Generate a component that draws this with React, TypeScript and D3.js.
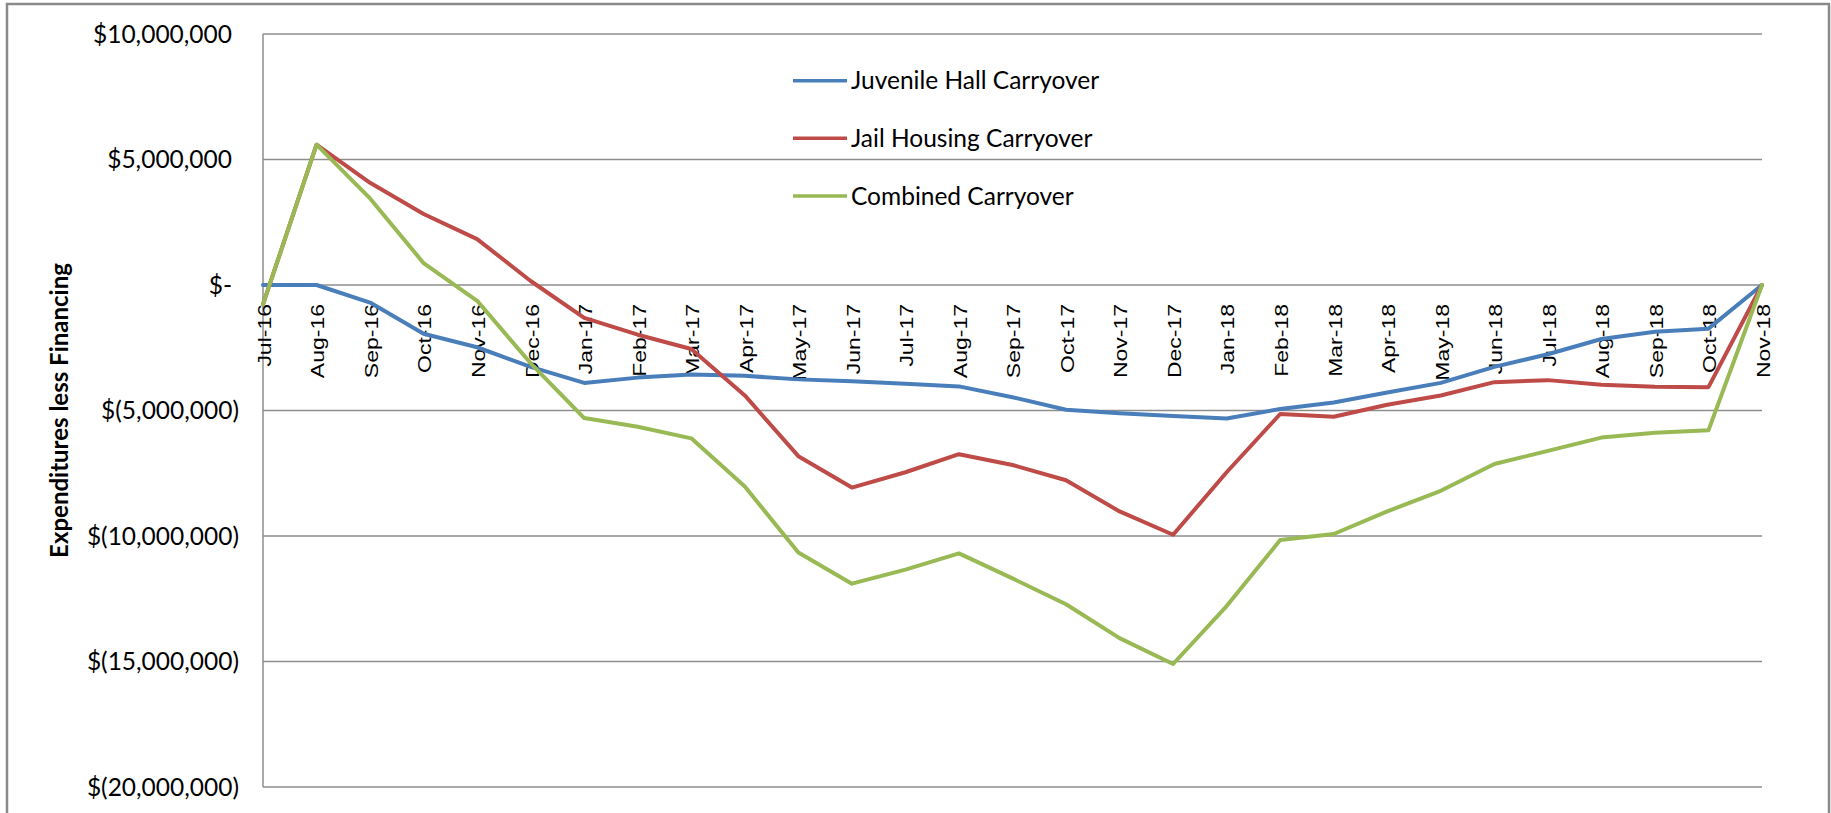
import * as d3 from 'd3';

const months = [
  'Jul-16', 'Aug-16', 'Sep-16', 'Oct-16', 'Nov-16', 'Dec-16',
  'Jan-17', 'Feb-17', 'Mar-17', 'Apr-17', 'May-17', 'Jun-17',
  'Jul-17', 'Aug-17', 'Sep-17', 'Oct-17', 'Nov-17', 'Dec-17',
  'Jan-18', 'Feb-18', 'Mar-18', 'Apr-18', 'May-18', 'Jun-18',
  'Jul-18', 'Aug-18', 'Sep-18', 'Oct-18', 'Nov-18',
];

const juvenileHall = [
  0, 0, -700000, -1940000, -2480000, -3260000,
  -3900000, -3690000, -3570000, -3620000, -3760000, -3830000,
  -3930000, -4040000, -4470000, -4970000, -5110000, -5220000,
  -5320000, -4940000, -4680000, -4280000, -3900000, -3260000,
  -2760000, -2150000, -1860000, -1740000, 0,
];

const jailHousing = [
  -770000, 5590000, 4070000, 2830000, 1830000, 160000,
  -1310000, -1980000, -2550000, -4400000, -6820000, -8070000,
  -7460000, -6740000, -7170000, -7780000, -9020000, -9950000,
  -7460000, -5140000, -5250000, -4770000, -4400000, -3870000,
  -3790000, -3970000, -4050000, -4070000, 0,
];

const combined = [
  -770000, 5590000, 3450000, 870000, -630000, -3120000,
  -5300000, -5650000, -6110000, -8030000, -10660000, -11900000,
  -11340000, -10690000, -11690000, -12720000, -14070000, -15100000,
  -12790000, -10160000, -9920000, -9020000, -8200000, -7130000,
  -6610000, -6080000, -5890000, -5790000, 0,
];

const yTicks = [10000000, 5000000, 0, -5000000, -10000000, -15000000, -20000000];

const seriesNames = ['Juvenile Hall Carryover', 'Jail Housing Carryover', 'Combined Carryover'];
const seriesColors = ['#4A7EBB', '#BE4B48', '#98B954'];

const W = 1831;
const H = 813;
const FONT = "Lato, 'Open Sans', sans-serif";
const XFONT = "'Liberation Sans', Arial, sans-serif";

function money(v: number) {
  if (v === 0) return '$-';
  const s = d3.format(',')(Math.abs(v));
  return v < 0 ? `$(${s})` : `$${s}`;
}

export default function App() {
  const x = d3.scalePoint<string>().domain(months).range([263, 1762]);
  const y = d3.scaleLinear().domain([-20000000, 10000000]).range([787, 34]);

  const line = d3
    .line<number>()
    .x((_, i) => x(months[i]) as number)
    .y((d) => y(d));

  const series = [juvenileHall, jailHousing, combined];
  const legendY = [80.7, 138.3, 196];

  return (
    <div style={{ position: 'absolute', left: 0, top: 0 }}>
      <svg width={W} height={H} style={{ display: 'block', background: '#fff' }}>
        {/* outer frame */}
        <rect x={7} y={4} width={1822} height={900} fill="#fff" stroke="#8a8a8a" strokeWidth={2.5} />

        {/* gridlines */}
        {yTicks.map((t) => (
          <line key={t} x1={263} x2={1762} y1={y(t)} y2={y(t)} stroke="#8e8e8e" strokeWidth={1.5} />
        ))}
        <line x1={263} x2={263} y1={y(10000000)} y2={y(-20000000)} stroke="#8e8e8e" strokeWidth={1.5} />

        {/* y tick labels */}
        {yTicks.map((t) => (
          <text
            key={t}
            x={t < 0 ? 239 : 232}
            y={y(t)}
            dy="0.35em"
            textAnchor="end"
            fontFamily={FONT}
            fontSize={24.5}
            fill="#000"
          >
            {money(t)}
          </text>
        ))}

        {/* y axis title */}
        <text
          transform={`translate(60,${(y(10000000) + y(-20000000)) / 2}) rotate(-90)`}
          dy="0.35em"
          textAnchor="middle"
          fontFamily={FONT}
          fontWeight="bold"
          fontSize={24}
          fill="#000"
        >
          Expenditures less Financing
        </text>

        {/* x tick labels */}
        {months.map((m) => (
          <text
            key={m}
            transform={`translate(${x(m)},304) rotate(-90) scale(1,0.83)`}
            dy="0.41em"
            textAnchor="end"
            fontFamily={XFONT}
            fontSize={23}
            fill="#000"
          >
            {m}
          </text>
        ))}

        {/* lines */}
        {series.map((s, i) => (
          <path
            key={seriesNames[i]}
            d={line(s) || ''}
            fill="none"
            stroke={seriesColors[i]}
            strokeWidth={4}
            strokeLinejoin="round"
            strokeLinecap="round"
          />
        ))}

        {/* legend */}
        {seriesNames.map((name, i) => (
          <g key={name}>
            <line x1={793} x2={847} y1={legendY[i]} y2={legendY[i]} stroke={seriesColors[i]} strokeWidth={3.5} />
            <text x={851} y={legendY[i]} dy="0.35em" fontFamily={FONT} fontSize={24.5} fill="#000">
              {name}
            </text>
          </g>
        ))}
      </svg>
    </div>
  );
}
